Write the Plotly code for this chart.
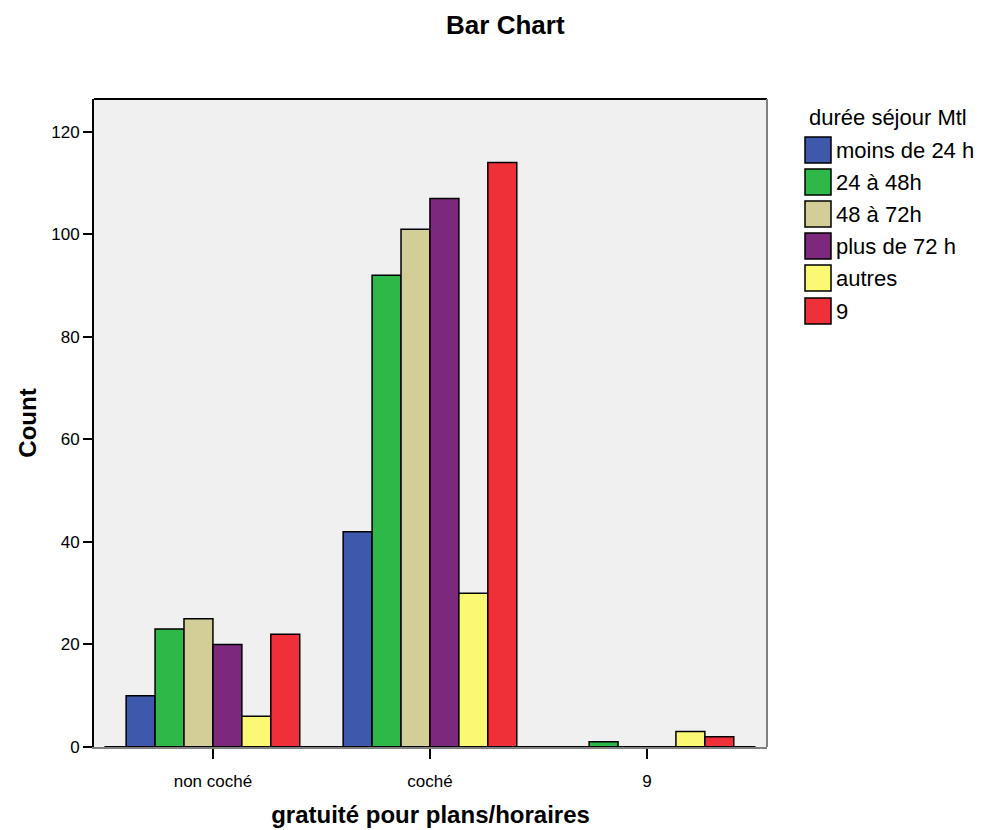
import plotly.graph_objects as go

# Categories and counts per stay duration
categories = ["non coché", "coché", "9"]
series_names = ["moins de 24 h", "24 à 48h", "48 à 72h", "plus de 72 h", "autres", "9"]
counts = {
    "moins de 24 h": [10, 42, 0],
    "24 à 48h": [23, 92, 1],
    "48 à 72h": [25, 101, 0],
    "plus de 72 h": [20, 107, 0],
    "autres": [6, 30, 3],
    "9": [22, 114, 2],
}
colors = ["#3E58AC", "#2EB848", "#D3CE97", "#7B287D", "#FBF873", "#EF3038"]
y_ticks = [0, 20, 40, 60, 80, 100, 120]

FONT = "Liberation Sans, Arial, Helvetica, sans-serif"

fig = go.Figure()
for name, col in zip(series_names, colors):
    fig.add_trace(go.Bar(
        x=list(range(len(categories))),
        y=counts[name],
        name=name,
        marker=dict(color=col, line=dict(color="black", width=1.5)),
        showlegend=False,
    ))

# plot area in pixels
plot_l, plot_r, plot_t, plot_b = 94, 767, 99, 747
pw, ph = plot_r - plot_l, plot_b - plot_t
def px_x(px):
    return (px - plot_l) / pw
def px_y(py):
    return (plot_b - py) / ph

shapes = [
    # zero baseline across the groups
    dict(type="line", xref="x", yref="y", x0=-0.5, x1=2.5, y0=0, y1=0,
         line=dict(color="black", width=2)),
    # top frame edge
    dict(type="line", xref="paper", yref="paper", x0=0, x1=1, y0=1, y1=1,
         line=dict(color="black", width=2)),
    # right frame edge
    dict(type="line", xref="paper", yref="paper", x0=1, x1=1, y0=0, y1=1,
         line=dict(color="#808080", width=2)),
]
annotations = [
    dict(text="durée séjour Mtl", xref="paper", yref="paper", x=px_x(807), y=px_y(117),
         xanchor="left", yanchor="middle", showarrow=False,
         font=dict(family=FONT, size=22, color="black")),
]

# legend drawn as swatches + labels to the right of the plot
row_y = [150, 182, 214, 246, 278, 311]
for name, col, ry in zip(series_names, colors, row_y):
    shapes.append(dict(type="rect", xref="paper", yref="paper",
                       x0=px_x(805), x1=px_x(831), y0=px_y(ry + 13), y1=px_y(ry - 13),
                       fillcolor=col, line=dict(color="black", width=1.5)))
    annotations.append(dict(text=name, xref="paper", yref="paper",
                            x=px_x(834), y=px_y(ry), xanchor="left", yanchor="middle",
                            showarrow=False,
                            font=dict(family=FONT, size=22, color="black")))

fig.update_layout(
    width=987, height=830,
    margin=dict(l=plot_l, r=987 - plot_r, t=plot_t, b=830 - plot_b),
    paper_bgcolor="white",
    plot_bgcolor="#F0F0F0",
    barmode="group",
    bargap=0.2,
    bargroupgap=0,
    font=dict(family=FONT, color="black"),
    title=dict(text="<b>Bar Chart</b>", x=0.512, xref="container", xanchor="center",
               y=1 - 25 / 830, yref="container", yanchor="middle",
               font=dict(family=FONT, size=26, color="black")),
    xaxis=dict(
        tickmode="array", tickvals=list(range(len(categories))), ticktext=categories,
        range=[-0.548, 2.553], showgrid=False, zeroline=False, automargin=False,
        showline=True, linecolor="#808080", linewidth=2, mirror=False,
        ticks="outside", ticklen=10, tickwidth=2, tickcolor="black",
        ticklabelstandoff=8,
        tickfont=dict(family=FONT, size=17, color="black"),
        title=dict(text="<b>gratuité pour plans/horaires</b>", standoff=16,
                   font=dict(family=FONT, size=24, color="black")),
    ),
    yaxis=dict(
        range=[0, 126.4], tickmode="array", tickvals=y_ticks,
        showgrid=False, zeroline=False, automargin=False,
        showline=True, linecolor="black", linewidth=2, mirror=False,
        ticks="outside", ticklen=9, tickwidth=2, tickcolor="black",
        tickfont=dict(family=FONT, size=17, color="black"),
        title=dict(text="<b>Count</b>", standoff=8,
                   font=dict(family=FONT, size=24, color="black")),
    ),
    shapes=shapes,
    annotations=annotations,
)

fig.write_html("out.html")
